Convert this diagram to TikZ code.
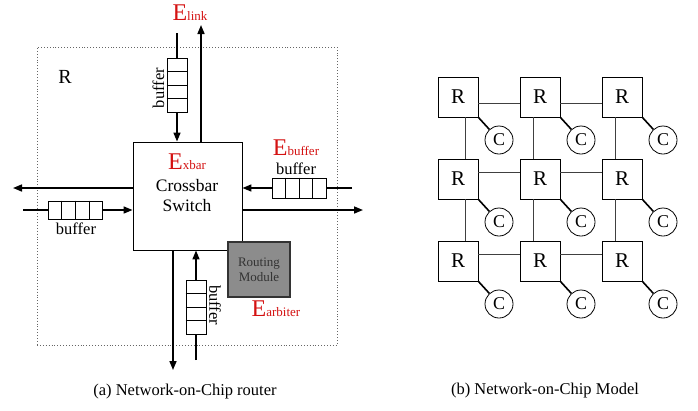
\documentclass[tikz,border=0pt]{standalone}
\usepackage{fontspec}
\setmainfont{Liberation Serif}
\usepackage{tikz}
\usetikzlibrary{positioning,calc,arrows.meta}

\definecolor{ered}{RGB}{212,18,18}
\definecolor{rmgray}{RGB}{140,140,140}
\newcommand{\energy}[1]{\textcolor{ered}{{\fontsize{24}{24}\selectfont E}{\fontsize{13}{13}\selectfont #1}}}

\tikzset{
    wire/.style={line width=1.6pt},
    arrow/.style={wire, -{Triangle[length=9pt,width=7pt]}},
    vbuffer/.style={draw, line width=0.9pt, minimum width=20pt, minimum height=54pt, inner sep=0pt},
    hbuffer/.style={draw, line width=0.9pt, minimum width=54pt, minimum height=20pt, inner sep=0pt},
    txt/.style={inner sep=0pt, font=\fontsize{16.5}{18}\selectfont},
    router/.style={draw, line width=0.8pt, minimum size=40pt, inner sep=0pt, font=\fontsize{21}{21}\selectfont},
    core/.style={draw, circle, line width=0.8pt, minimum size=28pt, inner sep=0pt, font=\fontsize{18}{18}\selectfont},
    link/.style={line width=0.8pt, draw=black!75}
}

\begin{document}
\begin{tikzpicture}[x=1pt, y=-1pt]
    \useasboundingbox (0,0) rectangle (698,410);

    % (a) router
    \node [draw=black!60, dotted, line width=0.9pt, minimum width=300pt, minimum height=298pt] (rbox) at (187,196) {};
    \node [inner sep=0pt, font=\fontsize{20}{20}\selectfont] (rlab) at (65,77) {R};

    \node [draw, line width=0.9pt, fill=white, minimum width=109pt, minimum height=108pt] (xbar) at (187.5,196) {};
    \node [txt, font=\fontsize{17.5}{20}\selectfont, align=center] (xbartxt) at (187,196) {Crossbar\\Switch};
    \node [inner sep=0pt] (exbar) at (187,162) {\energy{xbar}};

    \node [draw=black!80, line width=1.5pt, fill=rmgray, minimum width=62pt, minimum height=55pt, align=center,
           font=\fontsize{13}{15}\selectfont, text=black!80] (route) at (259,269.5) {Routing\\Module};
    \node [inner sep=0pt] (earb) at (276,309) {\energy{arbiter}};

    % buffers
    \node [vbuffer] (bt) at (177,85) {};
    \node [vbuffer] (bb) at (196,307) {};
    \node [hbuffer] (br) at (299,188) {};
    \node [hbuffer, minimum height=18pt] (bl) at (75.5,210) {};
    \foreach \b in {bt,bb}
        \foreach \f in {0.25,0.5,0.75}
            \draw [line width=0.9pt] ($(\b.north west)!\f!(\b.south west)$) -- ($(\b.north east)!\f!(\b.south east)$);
    \foreach \b in {bl,br}
        \foreach \f in {0.25,0.5,0.75}
            \draw [line width=0.9pt] ($(\b.north west)!\f!(\b.north east)$) -- ($(\b.south west)!\f!(\b.south east)$);

    \node [txt, rotate=90] (btlab) at (158.5,88) {buffer};
    \node [txt, rotate=-90] (bblab) at (215,305) {buffer};
    \node [txt] (brlab) at (296,169) {buffer};
    \node [txt] (bllab) at (76,229) {buffer};

    \node [inner sep=0pt] (elink) at (190,13) {\energy{link}};
    \node [inner sep=0pt] (ebuf) at (296,148) {\energy{buffer}};

    % free ends
    \coordinate (tin) at (177,33);
    \coordinate (tout) at (201,25);
    \coordinate (rin) at (352,188);
    \coordinate (rout) at (363,210);
    \coordinate (lout) at (13,188);
    \coordinate (lin) at (23,210);
    \coordinate (bout) at (173,370);
    \coordinate (bin) at (196,360);

    % top
    \draw [wire] (tin) -- (bt.north);
    \draw [arrow] (bt.south) -- (bt.south |- xbar.north);
    \draw [arrow] (xbar.north -| tout) -- (tout);
    % right
    \draw [wire] (rin) -- (br.east);
    \draw [arrow] (br.west) -- (br.west -| xbar.east);
    \draw [arrow] (xbar.east |- rout) -- (rout);
    % left
    \draw [arrow] (xbar.west |- lout) -- (lout);
    \draw [wire] (lin) -- (bl.west);
    \draw [arrow] (bl.east) -- (bl.east -| xbar.west);
    % bottom
    \draw [arrow] (xbar.south -| bout) -- (bout);
    \draw [wire] (bin) -- (bb.south);
    \draw [arrow] (bb.north) -- (bb.north |- xbar.south);

    % (b) mesh
    \foreach \i in {1,2,3}
        \foreach \j in {1,2,3} {
            \node [router] (r\i\j) at (376+82*\i, 15+82*\j) {R};
            \node [core] (c\i\j) at ($(r\i\j)+(41,43)$) {C};
            \draw [line width=1.6pt] (r\i\j.south east) -- (c\i\j);
        }
    \foreach \j/\dy in {1/-6,2/7,3/7} {
        \draw [link] ([yshift=\dy pt]r1\j.east) -- ([yshift=\dy pt]r2\j.west);
        \draw [link] ([yshift=\dy pt]r2\j.east) -- ([yshift=\dy pt]r3\j.west);
    }
    \foreach \i/\dx in {1/7,2/-7,3/-7} {
        \draw [link] ([xshift=\dx pt]r\i1.south) -- ([xshift=\dx pt]r\i2.north);
        \draw [link] ([xshift=\dx pt]r\i2.south) -- ([xshift=\dx pt]r\i3.north);
    }

    % captions
    \node [txt] (capa) at (185,392) {(a) Network-on-Chip router};
    \node [txt] (capb) at (545,391) {(b) Network-on-Chip Model};
\end{tikzpicture}
\end{document}
